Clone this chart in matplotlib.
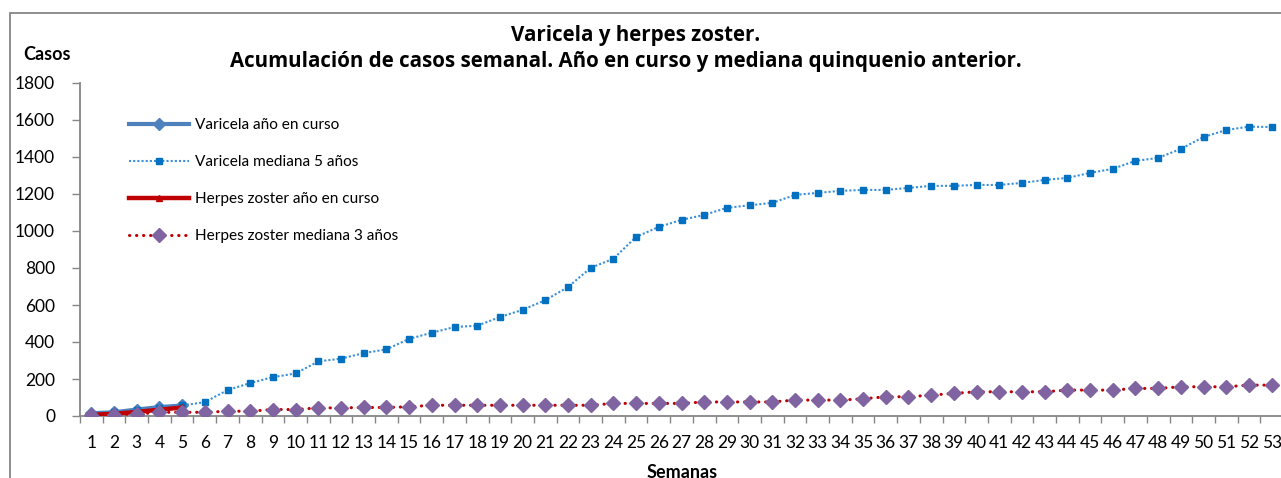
import matplotlib
matplotlib.use("Agg")
import matplotlib.pyplot as plt
from matplotlib.patches import Rectangle
from matplotlib.ticker import FixedLocator, MultipleLocator

plt.rcParams["font.family"] = ["Lato", "DejaVu Sans"]

semanas = list(range(1, 54))

varicela_curso = [15, 20, 35, 48, 57]
herpes_curso = [6, 12, 22, 34, 46]

varicela_mediana = [
    10, 20, 30, 45, 57, 75, 140, 178, 210, 230,
    295, 310, 340, 360, 417, 450, 481, 488, 535, 574,
    626, 697, 801, 850, 968, 1022, 1060, 1087, 1125, 1139,
    1152, 1195, 1206, 1217, 1222, 1222, 1233, 1244, 1244, 1249,
    1249, 1260, 1276, 1287, 1314, 1336, 1379, 1395, 1444, 1508,
    1546, 1564, 1562,
]

herpes_mediana = [
    3, 8, 10, 20, 20, 20, 26, 26, 35, 35,
    44, 44, 46, 46, 50, 58, 58, 58, 58, 58,
    58, 58, 58, 68, 68, 68, 68, 76, 76, 76,
    76, 86, 86, 86, 93, 104, 104, 113, 122, 131,
    131, 131, 131, 140, 140, 140, 149, 149, 158, 158,
    158, 167, 167,
]

etiquetas = [
    "Varicela año en curso",
    "Varicela mediana 5 años",
    "Herpes zoster año en curso",
    "Herpes zoster mediana 3 años",
]

W, H = 1281, 478
fig = plt.figure(figsize=(W / 100, H / 100), dpi=100)
ax = fig.add_axes([80 / W, 62 / H, 1203 / W, 333 / H])

ax.plot(semanas[:len(varicela_curso)], varicela_curso, color="#4F81BD", lw=3,
        marker="D", ms=6, mfc="#4F81BD", mec="#4F81BD", label=etiquetas[0], zorder=3)
ax.plot(semanas, varicela_mediana, color="#3A8FD9", lw=1.5, linestyle=(0, (1, 1)),
        marker="s", ms=5, mfc="#0070C0", mec="#0070C0", label=etiquetas[1], zorder=4)
ax.plot(semanas[:len(herpes_curso)], herpes_curso, color="#C00000", lw=3.2,
        marker="^", ms=4, mfc="#C00000", mec="#C00000", label=etiquetas[2], zorder=5)
ax.plot(semanas, herpes_mediana, color="#C00000", lw=2.2, linestyle=(0, (0.1, 2.2)),
        dash_capstyle="round", marker="D", ms=6.8, mfc="#8064A2", mec="#8064A2",
        label=etiquetas[3], zorder=6)

ax.set_xlim(0.5, 53.5)
ax.set_ylim(0, 1800)
ax.yaxis.set_major_locator(MultipleLocator(200))
ax.set_xticks(semanas)
ax.set_xticklabels([str(s) for s in semanas])
ax.xaxis.set_minor_locator(FixedLocator([s + 0.5 for s in range(0, 54)]))

for side in ["top", "right"]:
    ax.spines[side].set_visible(False)
for side in ["left", "bottom"]:
    ax.spines[side].set_color("#868686")
    ax.spines[side].set_linewidth(1.3)

ax.tick_params(axis="x", which="major", length=0, pad=14, labelsize=12.5)
ax.tick_params(axis="x", which="minor", length=5, color="#868686", width=1)
ax.tick_params(axis="y", length=6, color="#868686", width=1, labelsize=12.5, pad=12)

fig.text(636 / W, 1 - 35 / H, "Varicela y herpes zoster.", ha="center", va="center",
         fontsize=14.8, fontweight="bold", family=["Open Sans", "DejaVu Sans"])
fig.text(626 / W, 1 - 62 / H,
         "Acumulación de casos semanal. Año en curso y mediana quinquenio anterior.",
         ha="center", va="center", fontsize=14.8, fontweight="bold",
         family=["Open Sans", "DejaVu Sans"])
fig.text(47 / W, 1 - 55 / H, "Casos", ha="center", va="center", fontsize=13,
         fontweight="bold")
fig.text(682 / W, 1 - 472 / H, "Semanas", ha="center", va="center", fontsize=13,
         fontweight="bold")

ax.legend(loc="upper left", bbox_to_anchor=(129 / W, 1 - 118 / H),
          bbox_transform=fig.transFigure, frameon=False, fontsize=11.1,
          handlelength=3.9, handletextpad=0.4, labelspacing=1.5,
          borderpad=0, borderaxespad=0)

fig.add_artist(Rectangle((10 / W, -0.1), 1.2, 1.1 - 13 / H, transform=fig.transFigure,
                         fill=False, edgecolor="#868686", lw=1.3))

fig.savefig("out.png", dpi=100)
